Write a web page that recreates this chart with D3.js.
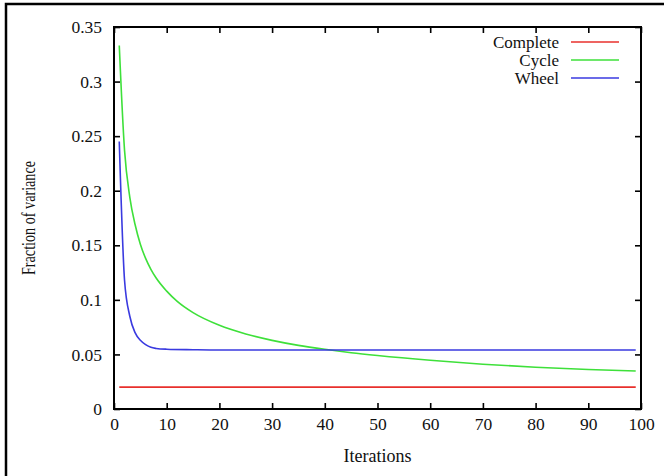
<!DOCTYPE html>
<html>
<head>
<meta charset="utf-8">
<script src="https://cdn.jsdelivr.net/npm/d3@7"></script>
<style>
  body { margin: 0; background: #fff; }
  svg { display: block; }
</style>
</head>
<body>
<div class="chart"></div>
<script>
// data
var completeX = [1, 99];
var completeY = [0.02, 0.02];

var cycleX = [1, 2, 3, 4, 5, 6, 7, 8, 10, 12, 15, 20, 25, 30, 35, 40, 45, 50, 60, 70, 80, 90, 99];
var cycleY = [0.333, 0.237, 0.194, 0.169, 0.151, 0.138, 0.128, 0.120, 0.108, 0.0986, 0.0883, 0.0767,
              0.0688, 0.0629, 0.0583, 0.0547, 0.0516, 0.049, 0.0446, 0.041, 0.0383, 0.0362, 0.0348];

var wheelX = [1, 2, 3, 4, 5, 6, 7, 8, 10, 15, 20, 40, 60, 80, 99];
var wheelY = [0.245, 0.118, 0.085, 0.07, 0.063, 0.059, 0.0565, 0.0555, 0.0548, 0.0543, 0.054,
              0.054, 0.054, 0.054, 0.054];

var seriesNames = ["Complete", "Cycle", "Wheel"];
var seriesColors = ["#e8302c", "#3ee03a", "#3a3ae0"];

var xTicks = [0, 10, 20, 30, 40, 50, 60, 70, 80, 90, 100];
var yTicks = [0, 0.05, 0.1, 0.15, 0.2, 0.25, 0.3, 0.35];
var yTickLabels = ["0", "0.05", "0.1", "0.15", "0.2", "0.25", "0.3", "0.35"];

var FONT = "'Liberation Serif', 'Times New Roman', Times, 'Nimbus Roman', 'DejaVu Serif', serif";

var W = 664, H = 476;
var margin = {top: 27, right: 23, bottom: 67, left: 114},
    width = W - margin.left - margin.right,
    height = H - margin.top - margin.bottom;

var svg = d3.select(".chart")
  .append("svg")
    .attr("width", W)
    .attr("height", H)
    .style("font-family", FONT);

// outer frame (cropped on right and bottom)
svg.append("path")
  .attr("d", "M6,476 L6,4 L664,4")
  .attr("fill", "none")
  .attr("stroke", "#000")
  .attr("stroke-width", 2.5);

var g = svg.append("g")
  .attr("transform", "translate(" + margin.left + "," + margin.top + ")");

var x = d3.scaleLinear().domain([0, 100]).range([0, width]);
var y = d3.scaleLinear().domain([0, 0.35]).range([height, 0]);

var tickLen = 6;

// bottom axis with labels
var xAxis = g.append("g")
  .attr("transform", "translate(0," + height + ")")
  .call(d3.axisBottom(x).tickValues(xTicks).tickSizeInner(-tickLen).tickSizeOuter(0).tickPadding(9));
// top mirror
var xTop = g.append("g")
  .call(d3.axisTop(x).tickValues(xTicks).tickSizeInner(-tickLen).tickSizeOuter(0).tickFormat(""));
// left axis with labels
var yAxis = g.append("g")
  .call(d3.axisLeft(y).tickValues(yTicks).tickSizeInner(-tickLen).tickSizeOuter(0).tickPadding(12)
    .tickFormat(function(d, i) { return yTickLabels[i]; }));
// right mirror
var yRight = g.append("g")
  .attr("transform", "translate(" + width + ",0)")
  .call(d3.axisRight(y).tickValues(yTicks).tickSizeInner(-tickLen).tickSizeOuter(0).tickFormat(""));

[xAxis, xTop, yAxis, yRight].forEach(function(a) {
  a.attr("font-family", null).attr("font-size", null);
  a.select(".domain").remove();
  a.selectAll(".tick line").attr("stroke", "#000").attr("stroke-width", 1.6);
  a.selectAll(".tick text")
    .style("font-family", FONT)
    .attr("font-size", 17.5)
    .attr("fill", "#111");
});

// frame
g.append("rect")
  .attr("x", 0).attr("y", 0)
  .attr("width", width).attr("height", height)
  .attr("fill", "none")
  .attr("stroke", "#000")
  .attr("stroke-width", 2);

// lines
var series = [
  {x: completeX, y: completeY},
  {x: cycleX, y: cycleY},
  {x: wheelX, y: wheelY}
];

var line = d3.line()
  .x(function(d) { return x(d[0]); })
  .y(function(d) { return y(d[1]); })
  .curve(d3.curveMonotoneX);

series.forEach(function(s, i) {
  g.append("path")
    .datum(d3.zip(s.x, s.y))
    .attr("fill", "none")
    .attr("stroke", seriesColors[i])
    .attr("stroke-width", 1.6)
    .attr("d", line);
});

// legend
var legend = g.append("g")
  .attr("transform", "translate(" + (width - 22) + ",15)");
seriesNames.forEach(function(name, i) {
  var row = legend.append("g").attr("transform", "translate(0," + (i * 18) + ")");
  row.append("line")
    .attr("x1", -48).attr("x2", 0)
    .attr("y1", 0).attr("y2", 0)
    .attr("stroke", seriesColors[i])
    .attr("stroke-width", 1.6);
  row.append("text")
    .attr("x", -60).attr("y", 5.5)
    .attr("text-anchor", "end")
    .style("font-family", FONT)
    .attr("font-size", 17)
    .attr("fill", "#111")
    .text(name);
});

// axis titles
g.append("text")
  .attr("x", width / 2)
  .attr("y", height + 53)
  .attr("text-anchor", "middle")
  .style("font-family", FONT)
  .attr("font-size", 18)
  .attr("fill", "#111")
  .text("Iterations");

g.append("text")
  .attr("transform", "translate(" + (35 - margin.left) + "," + (height / 2) + ") rotate(-90)")
  .attr("text-anchor", "middle")
  .style("font-family", FONT)
  .attr("font-size", 18)
  .attr("fill", "#111")
  .attr("textLength", 114)
  .attr("lengthAdjust", "spacingAndGlyphs")
  .text("Fraction of variance");
</script>
</body>
</html>
